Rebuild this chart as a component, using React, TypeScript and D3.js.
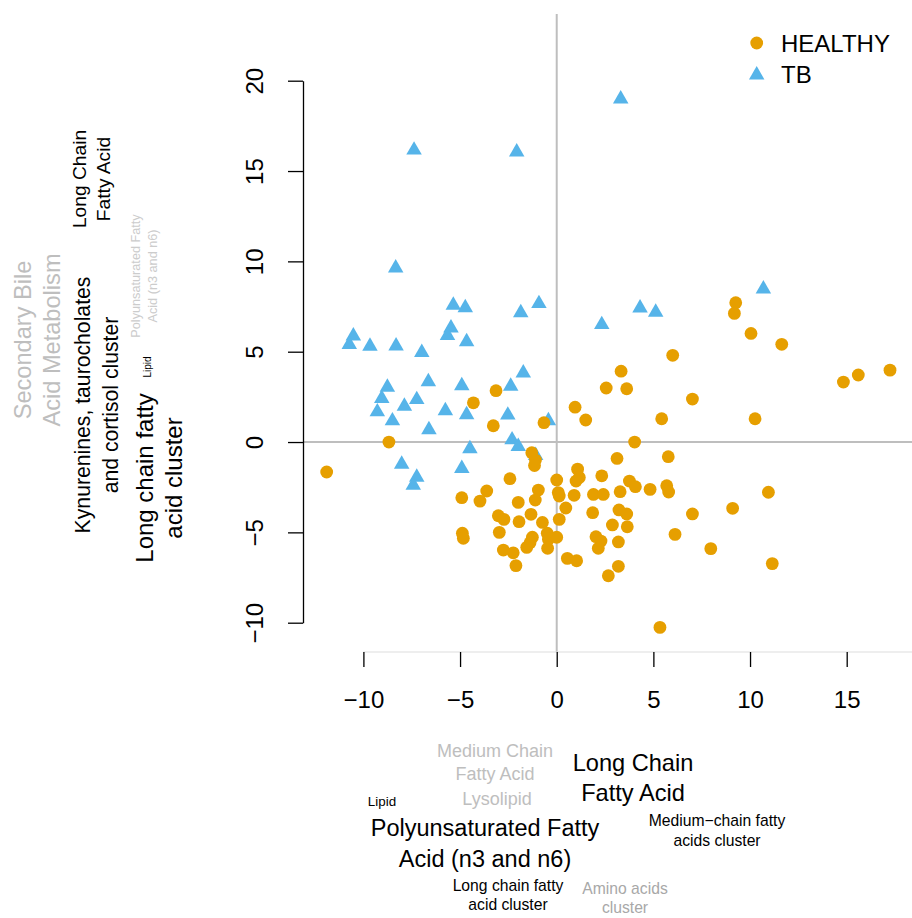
import React, { useEffect, useRef } from 'react';
import * as d3 from 'd3';

// HEALTHY (orange circles)
const healthyX = [
    -3.14, -4.31, -3.28, -0.66, 0.95, 1.5, 2.56, 3.33, -8.68, -11.9,
    -1.29, -1.1, -1.15, -2.42, -3.62, -4.91, -3.97, -0.95, -1.11, -1.99,
    0.0, 0.08, 0.13, 0.9, 1.08, 1.17, 1.0, 2.33, 1.9, 2.41,
    3.12, 3.28, -3.02, -2.73, -1.95, -1.33, -0.74, 0.47, 0.13, 1.86,
    3.22, 2.88, -4.88, -4.83, -2.97, -1.26, -1.38, -1.55, -0.49, -0.43,
    0.0, -0.47, -2.76, -2.25, -2.11, 0.55, 1.03, 2.03, 2.29, 2.15,
    2.67, 3.19, 3.19, 9.26, 9.19, 10.05, 11.64, 6.0, 3.62, 7.02,
    5.43, 10.26, 14.83, 15.6, 17.24, 4.03, 5.77, 3.76, 4.07, 4.83,
    5.69, 5.79, 10.95, 3.62, 3.65, 7.02, 9.1, 6.12, 7.97, 11.15,
    5.34,
];
const healthyY = [
    2.84, 2.17, 0.9, 1.07, 1.93, 1.22, 2.99, 3.92, 0.0, -1.66,
    -0.59, -1.0, -1.3, -2.03, -2.71, -3.08, -3.27, -2.66, -3.21, -3.34,
    -2.1, -2.8, -2.99, -2.95, -1.5, -1.96, -2.16, -1.87, -2.9, -2.9,
    -0.91, -2.75, -4.08, -4.28, -4.41, -4.0, -4.45, -3.65, -4.28, -3.91,
    -3.76, -4.59, -5.05, -5.33, -5.0, -5.27, -5.57, -5.83, -5.05, -5.38,
    -5.27, -5.88, -5.98, -6.13, -6.84, -6.44, -6.57, -5.24, -5.48, -5.88,
    -7.4, -5.53, -6.88, 7.71, 7.12, 6.01, 5.41, 4.8, 2.95, 2.38,
    1.29, 1.29, 3.32, 3.71, 3.98, 0.0, -0.81, -2.16, -2.47, -2.62,
    -2.42, -2.77, -2.78, -3.98, -4.69, -3.98, -3.67, -5.11, -5.9, -6.73,
    -10.26,
];

// TB (blue triangles)
const tbX = [
    3.31, -7.38, -2.07, -8.33, -5.35, -4.73, -1.86, -0.92, 2.33, 4.31,
    5.12, 10.69, -10.52, -10.73, -9.66, -8.31, -6.98, -5.47, -5.65, -4.66,
    -8.76, -9.05, -6.64, -7.24, -4.91, -2.38, -1.73, -9.28, -7.88, -8.5,
    -6.61, -5.76, -4.66, -2.53, -0.43, -2.31, -1.99, -4.49, -1.09, -8.02,
    -4.91, -7.24, -7.42,
];
const tbY = [
    18.99, 16.16, 16.05, 9.63, 7.57, 7.43, 7.16, 7.66, 6.5, 7.42,
    7.18, 8.47, 5.87, 5.4, 5.3, 5.32, 4.96, 6.31, 5.9, 5.55,
    3.03, 2.41, 3.34, 2.35, 3.12, 3.09, 3.82, 1.67, 1.98, 1.17,
    0.68, 1.73, 1.51, 1.49, 1.18, 0.12, -0.25, -0.37, -0.74, -1.23,
    -1.46, -1.95, -2.39,
];

const groups = ['HEALTHY', 'TB'];
const xTicks = [-10, -5, 0, 5, 10, 15];
const yTicks = [-10, -5, 0, 5, 10, 15, 20];

const FONT = "'Liberation Sans', Arial, Helvetica, sans-serif";
const ORANGE = '#E69F00';
const BLUE = '#56B4E9';

const fmt = (d: number) => (d < 0 ? '\u2212' + Math.abs(d) : String(d));

const App = () => {
    const d3Chart = useRef<SVGSVGElement>(null);

    useEffect(() => {
        const svg = d3.select(d3Chart.current);
        svg.selectAll('*').remove();

        const left = 303;
        const top = 14;
        const bottom = 652;
        const right = 912;

        const x = d3.scaleLinear().domain([-10, 15]).range([363.4, 846.7]);
        const y = d3.scaleLinear().domain([-10, 20]).range([622.7, 80.7]);

        // reference lines at 0
        svg.append('line')
            .attr('x1', x(0)).attr('x2', x(0))
            .attr('y1', top).attr('y2', bottom)
            .attr('stroke', '#BEBEBE').attr('stroke-width', 2);
        svg.append('line')
            .attr('x1', left).attr('x2', right)
            .attr('y1', y(0)).attr('y2', y(0))
            .attr('stroke', '#BEBEBE').attr('stroke-width', 2);

        // x axis (faint base line, black ticks)
        svg.append('line')
            .attr('x1', x(-10)).attr('x2', right)
            .attr('y1', bottom).attr('y2', bottom)
            .attr('stroke', '#DDDDDD').attr('stroke-width', 1);
        const xa = svg.append('g')
            .attr('transform', 'translate(0,' + bottom + ')')
            .call(d3.axisBottom(x).tickValues(xTicks).tickSize(15).tickFormat(d => fmt(+d)));
        xa.select('.domain').remove();
        xa.selectAll('line').attr('stroke', '#000').attr('stroke-width', 1.3);
        xa.selectAll('text')
            .attr('y', 48).attr('dy', '0.35em')
            .attr('font-size', 24).attr('font-family', FONT).attr('fill', '#000');

        // y axis
        const ya = svg.append('g')
            .attr('transform', 'translate(' + left + ',0)')
            .call(d3.axisLeft(y).tickValues(yTicks).tickSize(15).tickSizeOuter(0).tickFormat(d => fmt(+d)));
        ya.select('.domain').attr('stroke', '#000').attr('stroke-width', 1.3);
        ya.selectAll('line').attr('stroke', '#000').attr('stroke-width', 1.3);
        ya.selectAll('text')
            .attr('x', 0).attr('y', 0).attr('dy', '0.35em')
            .attr('transform', 'translate(-48,0) rotate(-90)')
            .attr('text-anchor', 'middle')
            .attr('font-size', 24).attr('font-family', FONT).attr('fill', '#000');

        // points
        const tri = d3.symbol().type(d3.symbolTriangle).size(104);
        svg.append('g')
            .attr('fill', BLUE)
            .selectAll('path')
            .data(tbX)
            .join('path')
            .attr('d', tri)
            .attr('transform', (d, i) => 'translate(' + x(d) + ',' + y(tbY[i]) + ')');
        svg.append('g')
            .attr('fill', ORANGE)
            .selectAll('circle')
            .data(healthyX)
            .join('circle')
            .attr('cx', d => x(d))
            .attr('cy', (d, i) => y(healthyY[i]))
            .attr('r', 6.4);

        // legend
        const lg = svg.append('g');
        lg.append('circle').attr('cx', 756.7).attr('cy', 43).attr('r', 6.4).attr('fill', ORANGE);
        lg.append('path').attr('d', tri).attr('fill', BLUE).attr('transform', 'translate(756.7,75)');
        lg.selectAll('text')
            .data(groups)
            .join('text')
            .attr('x', 781)
            .attr('y', (d, i) => 44 + i * 31)
            .attr('dy', '0.35em')
            .attr('font-size', 24)
            .attr('font-family', FONT)
            .text(d => d);

        // annotation labels
        const label = (lines: string[], cx: number, cy: number, size: number, gap: number, color: string, rotated: boolean) => {
            lines.forEach((t, i) => {
                const tx = rotated ? cx + i * gap : cx;
                const ty = rotated ? cy : cy + i * gap;
                svg.append('text')
                    .attr('transform', 'translate(' + tx + ',' + ty + ')' + (rotated ? ' rotate(-90)' : ''))
                    .attr('dy', '0.35em')
                    .attr('text-anchor', 'middle')
                    .attr('font-size', size)
                    .attr('font-family', FONT)
                    .attr('fill', color)
                    .text(t);
            });
        };

        // left side (rotated)
        label(['Secondary Bile', 'Acid Metabolism'], 23, 340, 23.6, 28.5, '#BEBEBE', true);
        label(['Kynurenines, taurocholates', 'and cortisol cluster'], 83, 405, 21.2, 28, '#000', true);
        label(['Lipid'], 147, 367, 10, 0, '#000', true);
        label(['Polyunsaturated Fatty', 'Acid (n3 and n6)'], 136, 276, 12.7, 17, '#CCCCCC', true);
        label(['Long chain fatty', 'acid cluster'], 145, 478, 24, 28.5, '#000', true);
        label(['Long Chain', 'Fatty Acid'], 79, 179, 19.2, 24, '#000', true);

        // bottom
        label(['Medium Chain', 'Fatty Acid'], 495, 751, 18, 22.5, '#BEBEBE', false);
        label(['Lysolipid'], 497, 799, 18, 0, '#BEBEBE', false);
        label(['Long Chain', 'Fatty Acid'], 633, 763, 23.6, 30, '#000', false);
        label(['Lipid'], 382, 801.5, 13.4, 0, '#000', false);
        label(['Polyunsaturated Fatty', 'Acid (n3 and n6)'], 485, 828, 23.5, 30.3, '#000', false);
        label(['Medium\u2212chain fatty', 'acids cluster'], 717, 820.7, 15.7, 20, '#000', false);
        label(['Long chain fatty', 'acid cluster'], 508, 885, 15.7, 19, '#000', false);
        label(['Amino acids', 'cluster'], 625, 888, 15.7, 19, '#A8A8A8', false);
    }, []);

    return (
        <svg
            ref={d3Chart}
            width={912}
            height={918}
            style={{ position: 'absolute', left: 0, top: 0, background: '#fff' }}
        ></svg>
    );
};

export default App;
